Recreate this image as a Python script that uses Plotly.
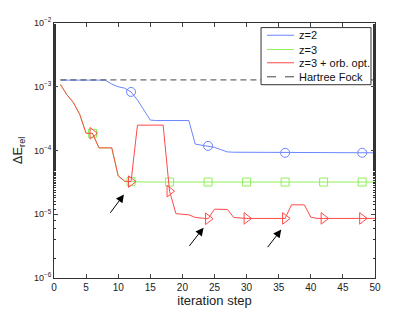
import plotly.graph_objects as go

steps = list(range(1, 51))

z2 = [1.27e-3]*8 + [1.1e-3, 1.0e-3, 9.5e-4, 8.3e-4, 6.2e-4, 4.3e-4, 3.0e-4] + [2.95e-4]*6 + \
     [1.26e-4, 1.22e-4, 1.18e-4, 1.12e-4, 1.03e-4, 9.5e-5] + [9.4e-5]*7 + [9.2e-5]*16

red_head = [1.09e-3, 7.5e-4, 5.7e-4, 3.7e-4, 1.86e-4, 1.86e-4, 1.1e-4, 1.1e-4, 1.1e-4, 4.0e-5, 3.3e-5, 3.25e-5]

z3 = red_head + [3.2e-5]*38

z3_orb = red_head + [2.5e-4]*5 + [2.3e-5, 1.02e-5, 1.0e-5, 9.8e-6, 8.9e-6, 8.7e-6, 8.5e-6,
         1.2e-5, 1.2e-5, 1.19e-5, 8.9e-6, 8.7e-6] + [8.6e-6]*7 + \
         [1.41e-5, 1.41e-5, 1.4e-5, 9.0e-6] + [8.6e-6]*10

hartree_fock = [1.28e-3]*50

series_names = ["z=2", "z=3", "z=3 + orb. opt.", "Hartree Fock"]

marker_every = 6
blue_marker_every = 12

# arrows: (tail x, tail log10 y, head x, head log10 y)
arrows = [(8.6, -5.0, 10.9, -4.69), (20.9, -5.52, 23.3, -5.21), (33.1, -5.54, 35.4, -5.24)]

C_BLUE = "#6b86ff"
C_GREEN = "#8ef05a"
C_RED = "#ff4a4a"
C_HF = "#444444"

fig = go.Figure()

def add(name, y, color, symbol, every, size):
    fig.add_trace(go.Scatter(x=steps, y=y, mode="lines", name=name, showlegend=False,
                             line=dict(color=color, width=1)))
    xs = [s for s in steps if s % every == 0]
    ys = [y[s-1] for s in xs]
    fig.add_trace(go.Scatter(x=xs, y=ys, mode="markers", showlegend=False,
                             marker=dict(symbol=symbol, size=size, color=color,
                                         line=dict(color=color, width=1))))

add(series_names[0], z2, C_BLUE, "circle-open", blue_marker_every, 9)
add(series_names[1], z3, C_GREEN, "square-open", marker_every, 8)
add(series_names[2], z3_orb, C_RED, "triangle-right-open", marker_every, 10)
fig.add_trace(go.Scatter(x=steps, y=hartree_fock, mode="lines", name=series_names[3],
                         showlegend=False,
                         line=dict(color=C_HF, width=1, dash="6px,4px")))

for tx, ty, hx, hy in arrows:
    fig.add_annotation(x=hx, y=hy, ax=tx, ay=ty, axref="x", ayref="y", xref="x", yref="y",
                       showarrow=True, arrowhead=2, arrowsize=1.6, arrowwidth=1,
                       arrowcolor="black", text="")

# manual legend (MATLAB style: line samples only)
leg_box = dict(x0=0.645, x1=0.9875, y0=0.758, y1=0.982)
leg_rows = [0.952, 0.896, 0.844, 0.789]
leg_colors = [C_BLUE, C_GREEN, C_RED, C_HF]
leg_dash = ["solid", "solid", "solid", "dash"]
fig.add_shape(type="rect", xref="paper", yref="paper", **leg_box,
              line=dict(color="#333", width=1), fillcolor="white", layer="above")
for name, yy, col, ds in zip(series_names, leg_rows, leg_colors, leg_dash):
    fig.add_shape(type="line", xref="paper", yref="paper", x0=0.6636, x1=0.7477, y0=yy, y1=yy,
                  line=dict(color=col, width=1, dash=ds), layer="above")
    fig.add_annotation(xref="paper", yref="paper", x=0.757, y=yy, text=name, showarrow=False,
                       xanchor="left", yanchor="middle", font=dict(size=11, color="#111"))

ytickvals = [1e-6, 1e-5, 1e-4, 1e-3, 1e-2]
yticktext = ["10<sup>−6</sup>", "10<sup>−5</sup>", "10<sup>−4</sup>", "10<sup>−3</sup>", "10<sup>−2</sup>"]

# page body adds an 8px offset, so the figure is 8px smaller and margins shifted
fig.update_layout(
    width=407, height=305,
    margin=dict(l=46, r=40, t=15, b=35),
    paper_bgcolor="white", plot_bgcolor="white",
    font=dict(family="Liberation Sans, Arial, sans-serif", size=10, color="#222"),
    showlegend=False,
)
fig.update_xaxes(range=[0, 50], dtick=5, ticks="inside", ticklen=4, mirror="ticks",
                 showline=True, linecolor="#333", linewidth=1, showgrid=False, zeroline=False,
                 automargin=False,
                 title=dict(text="iteration step", font=dict(size=13), standoff=2),
                 tickfont=dict(size=10))
fig.update_yaxes(type="log", range=[-6, -2], tickvals=ytickvals, ticktext=yticktext,
                 ticks="inside", ticklen=4, mirror="ticks", automargin=False,
                 minor=dict(ticks="inside", ticklen=2, tickcolor="#333", showgrid=False),
                 showline=True, linecolor="#333", linewidth=1, showgrid=False,
                 title=dict(text="ΔE<sub>rel</sub>", font=dict(size=13), standoff=8),
                 tickfont=dict(size=9))

fig.write_html("out.html")
